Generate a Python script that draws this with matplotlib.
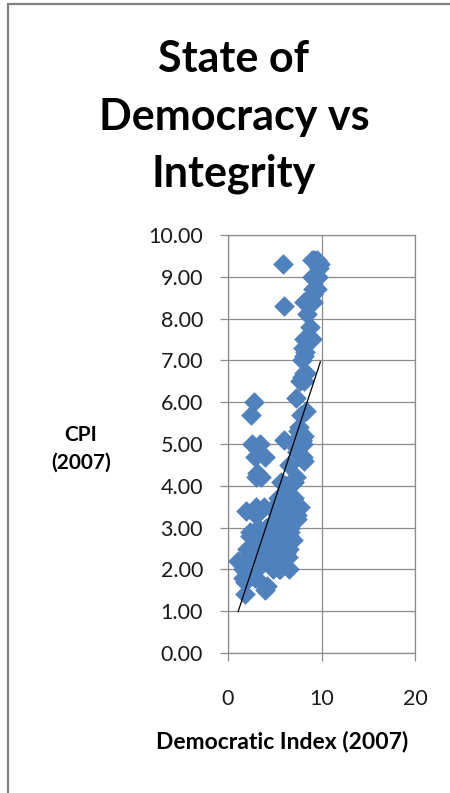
import numpy as np
import matplotlib
matplotlib.use('Agg')
import matplotlib.pyplot as plt
from matplotlib.patches import Rectangle

plt.rcParams['font.family'] = ['Lato', 'DejaVu Sans']

BLUE = '#4F81BD'
GRID = '#8C8C8C'

# Democracy Index 2007 (x) and CPI 2007 (y)
dem_index = [9.88, 9.71, 9.66, 9.55, 9.52, 9.25, 9.10, 9.09, 9.07, 9.02,
             9.01, 9.01, 8.82, 8.49, 8.39, 8.34, 8.22, 8.17, 8.16, 8.15,
             8.15, 8.13, 8.08, 8.08, 8.07, 8.04, 8.04, 7.96, 7.91, 7.89,
             7.88, 7.82, 7.74, 7.73, 7.68, 7.60, 7.60, 7.53, 7.43, 7.43,
             7.40, 7.38, 7.37, 7.35, 7.34, 7.30, 7.28, 7.18, 7.10, 7.06,
             7.04, 6.94, 6.67, 6.63, 6.62, 6.60, 6.58, 6.57, 6.54, 6.54,
             6.50, 6.48, 6.48, 6.41, 6.40, 6.33, 6.25, 6.22, 6.16, 6.13,
             6.11, 6.07, 6.06, 6.03, 5.99, 5.98, 5.98, 5.91, 5.89, 5.82,
             5.82, 5.70, 5.70, 5.68, 5.67, 5.64, 5.52, 5.49, 5.42, 5.37,
             5.35, 5.25, 5.25, 5.18, 5.14, 5.08, 5.02, 4.97, 4.90, 4.77,
             4.72, 4.70, 4.51, 4.39, 4.19, 4.09, 4.01, 3.92, 3.92, 3.90,
             3.90, 3.90, 3.71, 3.60, 3.57, 3.53, 3.52, 3.52, 3.42, 3.41,
             3.38, 3.38, 3.35, 3.34, 3.31, 3.27, 3.19, 3.17, 3.12, 3.09,
             3.06, 3.04, 3.02, 3.00, 2.98, 2.97, 2.96, 2.93, 2.90, 2.86,
             2.78, 2.75, 2.62, 2.62, 2.45, 2.42, 2.37, 2.36, 2.31, 2.28,
             2.10, 2.09, 2.02, 2.00, 2.00, 1.92, 1.85, 1.83, 1.77, 1.65,
             1.61, 1.08]
cpi = [9.3, 9.2, 9.0, 8.7, 9.4, 9.4, 8.4, 8.6, 8.7, 9.0,
       7.5, 9.4, 7.8, 8.1, 5.8, 6.7, 7.2, 5.2, 6.5, 7.1,
       7.5, 4.6, 8.4, 6.7, 7.3, 5.0, 4.7, 6.6, 5.1, 7.0,
       5.1, 5.7, 6.5, 5.2, 3.5, 5.4, 5.3, 5.3, 4.9, 4.8,
       4.9, 3.5, 4.8, 3.2, 3.3, 4.2, 6.1, 3.4, 4.1, 3.7,
       4.1, 2.7, 3.5, 2.9, 3.4, 3.0, 3.2, 3.3, 4.5, 2.0,
       2.8, 3.3, 2.5, 2.3, 3.8, 3.3, 2.5, 4.0, 2.4, 3.0,
       3.5, 2.8, 2.7, 8.3, 2.7, 5.1, 2.9, 2.9, 9.3, 3.0,
       3.2, 3.3, 4.1, 2.6, 3.3, 2.1, 2.0, 2.8, 2.0, 3.6,
       3.7, 2.6, 2.1, 3.2, 2.8, 2.1, 2.3, 2.7, 3.4, 2.0,
       2.4, 2.1, 2.5, 2.3, 1.6, 3.0, 1.5, 2.4, 4.7, 2.9,
       3.5, 2.6, 2.8, 2.9, 2.1, 2.2, 4.2, 2.3, 2.5, 2.6,
       5.0, 2.1, 2.2, 2.1, 2.1, 2.4, 2.1, 3.0, 2.6, 4.3,
       2.1, 3.3, 1.8, 3.3, 2.5, 3.5, 4.2, 2.5, 1.8, 4.7,
       6.0, 2.6, 5.0, 2.1, 2.1, 5.7, 2.9, 2.4, 2.8, 1.9,
       1.9, 1.9, 1.9, 2.5, 2.2, 3.4, 1.7, 2.0, 1.4, 1.8,
       2.0, 2.2]

x_ticks = [0, 10, 20]
y_ticks = np.arange(0, 10.01, 1.0)

fig = plt.figure(figsize=(4.5, 7.93), dpi=100)

# chart frame (only left and top edges are inside the crop)
fig.add_artist(Rectangle((8 / 450, -0.1), 1.2, 1 - 4 / 793 + 0.1,
                         transform=fig.transFigure, fill=False,
                         edgecolor='#808080', linewidth=1.6))

ax = fig.add_axes([228 / 450, 140 / 793, 187 / 450, 418 / 793])
ax.scatter(dem_index, cpi, marker='D', s=100, color=BLUE, edgecolors=BLUE,
           linewidths=0.5, zorder=3)

# linear trendline
slope, intercept = np.polyfit(dem_index, cpi, 1)
xs = np.array([min(dem_index), max(dem_index)])
ax.plot(xs, slope * xs + intercept, color='black', lw=0.9, zorder=4)

ax.set_xlim(0, 20)
ax.set_ylim(0, 10)
ax.set_xticks(x_ticks)
ax.set_yticks(y_ticks)
ax.set_yticklabels(['%.2f' % v for v in y_ticks])
ax.grid(True, color=GRID, lw=0.9)
ax.set_axisbelow(True)
for s in ax.spines.values():
    s.set_color(GRID)
    s.set_linewidth(0.9)
ax.tick_params(direction='out', length=6, width=0.9, color=GRID,
               labelsize=15.5, labelcolor='#1a1a1a')
ax.tick_params(axis='y', pad=12)
ax.tick_params(axis='x', pad=20)

# titles
for line, yp in zip(['State of', 'Democracy vs', 'Integrity'], [72, 130, 187]):
    fig.text(234 / 450, 1 - yp / 793, line, ha='center', va='baseline',
             fontsize=31, fontweight='bold')

fig.text(81 / 450, 1 - 449 / 793, 'CPI\n(2007)', ha='center', va='center',
         fontsize=15, fontweight='bold', linespacing=1.45)
fig.text(282 / 450, 1 - 748 / 793, 'Democratic Index (2007)', ha='center',
         va='baseline', fontsize=16.5, fontweight='bold')

fig.savefig('out.png', dpi=100)
